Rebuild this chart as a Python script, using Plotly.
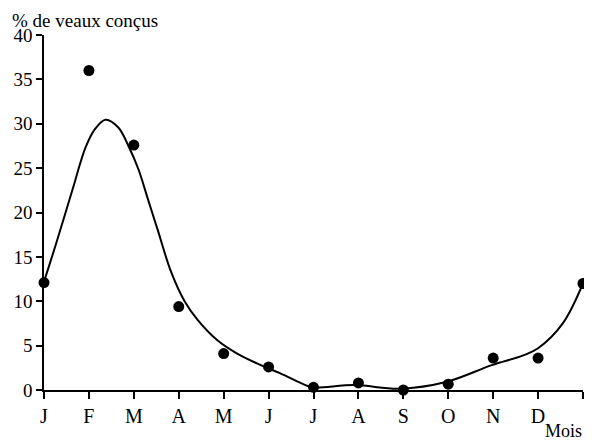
import plotly.graph_objects as go

# --------------------------------------------
# Data
# --------------------------------------------
month_labels = ["J", "F", "M", "A", "M", "J", "J", "A", "S", "O", "N", "D", "J"]
month_pos = list(range(13))
pct_calves = [12.1, 36.0, 27.6, 9.4, 4.1, 2.6, 0.3, 0.8, 0.0, 0.65, 3.6, 3.6, 12.0]

# smoothed fit curve (month index, %)
curve_x = [0.0, 0.27, 0.63, 0.93, 1.15, 1.37, 1.65, 1.88, 2.10, 2.32, 2.54, 2.83,
           3.13, 3.42, 3.86, 4.30, 4.74, 5.25, 5.82, 6.0, 6.92, 7.92, 8.95, 9.97,
           10.67, 11.0, 11.55, 12.0]
curve_y = [12.2, 16.5, 22.5, 27.4, 29.5, 30.45, 29.6, 27.5, 24.9, 21.4, 17.9, 13.3,
           10.0, 7.9, 5.6, 4.1, 3.0, 1.9, 0.55, 0.3, 0.55, 0.15, 0.9, 2.8,
           3.9, 4.7, 7.5, 12.0]

FONT = "Liberation Serif"

# page body has an 8px margin, so the figure is shifted / narrowed to fit
W, H = 576, 440
L, R, T, B = 36, 1, 27, 58
PW, PH = W - L - R, H - T - B

fig = go.Figure()

fig.add_trace(go.Scatter(
    x=curve_x, y=curve_y,
    mode="lines",
    line=dict(color="black", width=2, shape="spline", smoothing=1),
    cliponaxis=False,
    hoverinfo="skip",
))

fig.add_trace(go.Scatter(
    x=month_pos, y=pct_calves,
    mode="markers",
    marker=dict(color="black", size=11),
    cliponaxis=False,
))

fig.update_layout(
    width=W, height=H,
    margin=dict(l=L, r=R, t=T, b=B),
    paper_bgcolor="white", plot_bgcolor="white",
    showlegend=False,
    font=dict(family=FONT, size=20, color="black"),
    xaxis=dict(
        range=[0, 12], tickvals=month_pos, ticktext=month_labels,
        showline=True, linecolor="black", linewidth=1.5,
        ticks="outside", ticklen=7, tickwidth=1.5, tickcolor="black",
        showgrid=False, zeroline=False, automargin=False,
    ),
    yaxis=dict(
        range=[0, 40], tickvals=[0, 5, 10, 15, 20, 25, 30, 35, 40],
        tickfont=dict(size=19),
        showline=True, linecolor="black", linewidth=1.5,
        ticks="outside", ticklen=6, tickwidth=1.5, tickcolor="black",
        showgrid=False, zeroline=False, automargin=False,
    ),
    annotations=[
        dict(text="% de veaux conçus", xref="paper", yref="paper",
             x=-(L - 2) / PW, y=1 + T / PH, xanchor="left", yanchor="top",
             showarrow=False, font=dict(size=19)),
        dict(text="Mois", xref="paper", yref="paper",
             x=1 + R / PW, y=-(443 - 8 - T - PH) / PH,
             xanchor="right", yanchor="bottom", showarrow=False,
             font=dict(size=18)),
    ],
)

fig.write_html("out.html")
